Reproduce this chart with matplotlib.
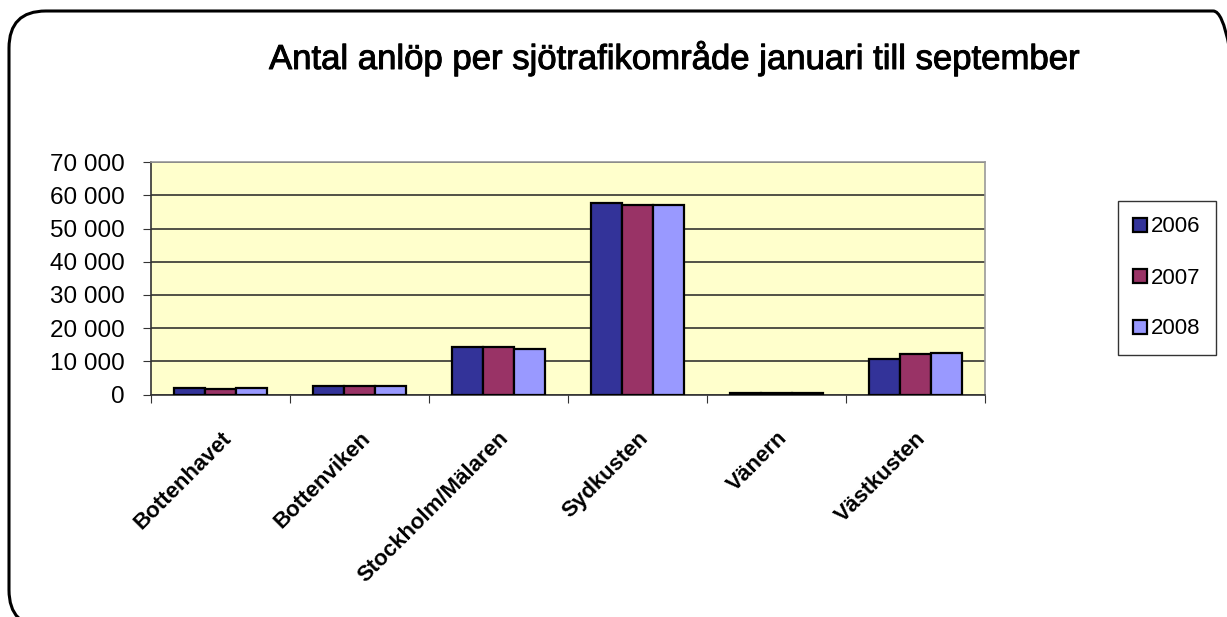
import matplotlib.pyplot as plt
import matplotlib.patheffects as pe
from matplotlib.patches import FancyBboxPatch
from matplotlib.ticker import FuncFormatter
import numpy as np

plt.rcParams['font.family'] = ['Liberation Sans', 'DejaVu Sans']

categories = ["Bottenhavet", "Bottenviken", "Stockholm/Mälaren",
              "Sydkusten", "Vänern", "Västkusten"]
years = ["2006", "2007", "2008"]
values_2006 = [2100, 2600, 14200, 57600, 500, 10700]
values_2007 = [1700, 2600, 14200, 57100, 450, 12200]
values_2008 = [2100, 2600, 13700, 57100, 450, 12600]
colors = ["#333399", "#993366", "#9999FF"]

fig = plt.figure(figsize=(12.27, 6.17), dpi=100)
fig.patch.set_facecolor('white')

# rounded chart border (right and bottom edges run off the picture)
x0, y0 = 9 / 1227, -10 / 617
border = FancyBboxPatch((x0, y0), 1250 / 1227 - x0, 1 - 11 / 617 - y0,
                        boxstyle="round,pad=0,rounding_size=0.03",
                        transform=fig.transFigure, facecolor='none',
                        edgecolor='black', linewidth=2.2, mutation_aspect=2)
fig.patches.append(border)

ax = fig.add_axes([151 / 1227, 1 - 394.5 / 617, 834 / 1227, 232.2 / 617])
ax.set_facecolor('#FFFFCC')

x = np.arange(len(categories))
w = 0.223
for i, (vals, c, lab) in enumerate(zip([values_2006, values_2007, values_2008], colors, years)):
    ax.bar(x + (i - 1) * w, vals, w, color=c, edgecolor='black',
           linewidth=1.6, label=lab, zorder=3)

ax.set_xlim(-0.5, len(categories) - 0.5)
ax.set_ylim(0, 70000)
ax.set_yticks(np.arange(0, 70001, 10000))
ax.yaxis.set_major_formatter(FuncFormatter(lambda v, p: f"{int(v):,}".replace(",", " ")))
ax.yaxis.grid(True, color='#222222', linewidth=1.1, zorder=1)
ax.set_axisbelow(True)

ax.set_xticks(np.arange(-0.5, len(categories)), minor=False)
ax.set_xticklabels([])
ax.set_xticks(x, minor=True)
ax.set_xticklabels(categories, minor=True, rotation=45, ha='right',
                   rotation_mode='anchor', fontsize=16, fontweight='bold')
ax.tick_params(axis='x', which='minor', length=0, pad=24)
ax.tick_params(axis='x', which='major', length=6, color='#333333', direction='out')
ax.tick_params(axis='y', length=6, color='#333333', labelsize=17.5, pad=13)

for s in ['top', 'right']:
    ax.spines[s].set_color('#999999')
    ax.spines[s].set_linewidth(1.2)
for s in ['left', 'bottom']:
    ax.spines[s].set_color('#333333')
    ax.spines[s].set_linewidth(1.2)

fig.text(675 / 1227, 1 - 58 / 617, "Antal anlöp per sjötrafikområde januari till september",
         ha='center', va='center', fontsize=25,
         path_effects=[pe.withStroke(linewidth=0.7, foreground='black')])

leg = fig.legend(loc='center', bbox_to_anchor=(1167 / 1227, 1 - 278 / 617),
                 fontsize=16, frameon=True, fancybox=False, edgecolor='black',
                 handlelength=0.6, handleheight=0.6, handletextpad=0.2,
                 labelspacing=1.35, borderpad=0.7)
leg.get_frame().set_linewidth(1.0)

fig.savefig("out.png", dpi=100)
